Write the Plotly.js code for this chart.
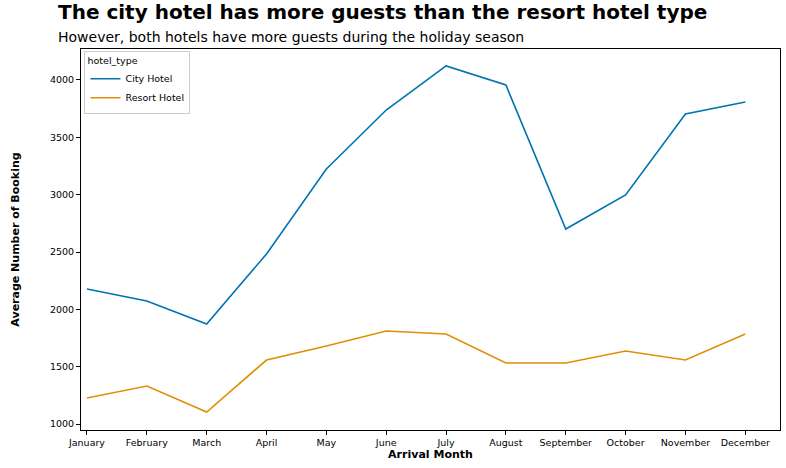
<!DOCTYPE html>
<html>
<head>
<script src="https://cdn.plot.ly/plotly-3.0.1.min.js"></script>
<style>body{margin:0;background:#fff}</style>
</head>
<body>
<div id="chart" style="width:786px;height:468px"></div>
<script>
var months = ['January','February','March','April','May','June','July','August','September','October','November','December'];
var cityHotel = [2177, 2073, 1872, 2483, 3224, 3738, 4122, 3956, 2700, 2997, 3703, 3808];
var resortHotel = [1227, 1331, 1105, 1558, 1680, 1811, 1785, 1532, 1532, 1637, 1558, 1785];

var font = 'DejaVu Sans, sans-serif';
var traces = [
    {x: months, y: cityHotel, name: 'City Hotel', mode: 'lines', type: 'scatter', line: {color: '#0173b2', width: 1.6}},
    {x: months, y: resortHotel, name: 'Resort Hotel', mode: 'lines', type: 'scatter', line: {color: '#de8f05', width: 1.6}}
];
var axisCommon = {
    showgrid: false, zeroline: false, showline: true, mirror: true,
    linecolor: '#000', linewidth: 1, ticks: 'outside', ticklen: 4, tickcolor: '#000',
    tickfont: {size: 9.5, color: '#000', family: font}
};
var layout = {
    paper_bgcolor: '#fff', plot_bgcolor: '#fff',
    margin: {l: 81, r: 6, t: 49, b: 38},
    font: {family: font, color: '#000'},
    xaxis: Object.assign({}, axisCommon, {
        type: 'category', range: [-0.1, 11.58],
        title: {text: '<b>Arrival Month</b>', font: {size: 11}, standoff: 2}
    }),
    yaxis: Object.assign({}, axisCommon, {
        range: [948, 4270], tickvals: [1000,1500,2000,2500,3000,3500,4000],
        title: {text: '<b>Average Number of Booking</b>', font: {size: 11}, standoff: 28}
    }),
    legend: {
        x: 0.005, y: 0.995, xanchor: 'left', yanchor: 'top',
        bordercolor: '#ccc', borderwidth: 1, bgcolor: 'rgba(255,255,255,0.8)',
        title: {text: 'hotel_type', font: {size: 9.5}, side: 'top'},
        font: {size: 9.5}, itemwidth: 30, tracegroupgap: 0
    },
    annotations: [
        {xref: 'paper', yref: 'paper', x: -0.036, y: 1.06, xanchor: 'left', yanchor: 'bottom', showarrow: false,
         text: '<b>The city hotel has more guests than the resort hotel type</b>', font: {size: 20}},
        {xref: 'paper', yref: 'paper', x: -0.036, y: 1.004, xanchor: 'left', yanchor: 'bottom', showarrow: false,
         text: 'However, both hotels have more guests during the holiday season', font: {size: 14}}
    ],
    hovermode: false
};
Plotly.newPlot('chart', traces, layout, {displayModeBar: false});
</script>
</body>
</html>
